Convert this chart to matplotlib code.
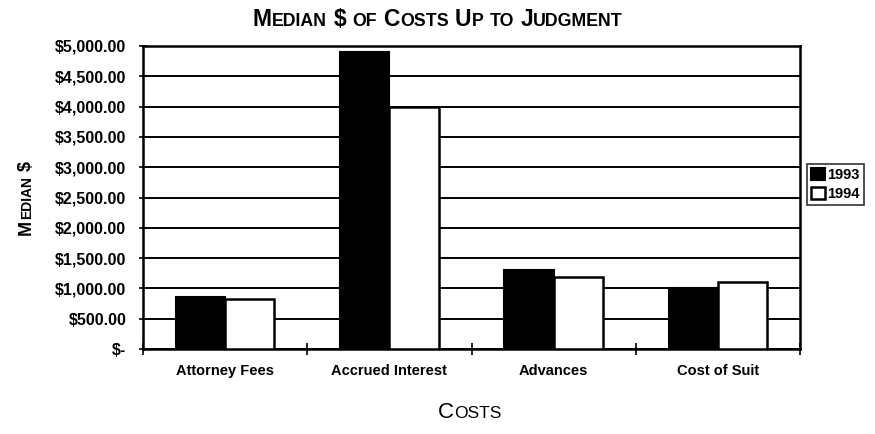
import matplotlib
matplotlib.use("Agg")
import matplotlib.pyplot as plt
import numpy as np

categories = ["Attorney Fees", "Accrued Interest", "Advances", "Cost of Suit"]
years = ["1993", "1994"]
median_1993 = [860, 4900, 1300, 1010]
median_1994 = [830, 3990, 1190, 1110]
y_ticks = [0, 500, 1000, 1500, 2000, 2500, 3000, 3500, 4000, 4500, 5000]

plt.rcParams["font.family"] = ["Liberation Sans", "DejaVu Sans"]

W, H = 875, 434
fig = plt.figure(figsize=(W / 100, H / 100), dpi=100)
ax = fig.add_axes([143 / W, 1 - 349 / H, (800 - 143) / W, (349 - 46) / H])

x = np.arange(len(categories))
bw = 0.30
ax.bar(x - bw / 2, median_1993, bw, color="black", edgecolor="black",
       linewidth=1.5, label=years[0], zorder=3)
ax.bar(x + bw / 2, median_1994, bw, color="white", edgecolor="black",
       linewidth=1.8, label=years[1], zorder=3)

ax.set_xlim(-0.5, len(categories) - 0.5)
ax.set_ylim(0, 5000)
ax.set_yticks(y_ticks)
ax.set_yticklabels(["$-" if v == 0 else f"${v:,.2f}" for v in y_ticks],
                   fontsize=11.5, fontweight="bold")
ax.yaxis.grid(True, color="black", linewidth=1.4, zorder=0)
ax.set_axisbelow(True)
ax.tick_params(axis="y", direction="inout", length=6, width=1.2, pad=9)

ax.set_xticks(x)
ax.set_xticklabels(categories, fontsize=10.5, fontweight="bold")
ax.tick_params(axis="x", length=0, pad=11)
ax.set_xticks(np.arange(-0.5, len(categories)), minor=True)
ax.tick_params(axis="x", which="minor", direction="inout", length=8, width=1.2)

for s in ax.spines.values():
    s.set_linewidth(1.8)
    s.set_color("black")

leg = fig.legend(loc="upper left", bbox_to_anchor=(807 / W, 1 - 164 / H),
                 prop={"weight": "bold", "size": 10.5},
                 frameon=True, fancybox=False, shadow=False,
                 handlelength=0.9, handleheight=0.9, handletextpad=0.2,
                 borderpad=0.3, labelspacing=0.3, borderaxespad=0)
leg.get_frame().set_edgecolor("black")
leg.get_frame().set_linewidth(1.2)

renderer = fig.canvas.get_renderer()


def pieces(label, big, small):
    out = []
    for wi, word in enumerate(label.split(" ")):
        if wi > 0:
            out.append((" ", big))
        run, run_small = "", None
        for ch in word:
            is_small = ch.islower()
            if run and is_small != run_small:
                out.append((run, small if run_small else big))
                run = ""
            run += ch.upper()
            run_small = is_small
        if run:
            out.append((run, small if run_small else big))
    return out


def text_width(s, size, weight):
    if s == " ":
        return 0.28 * size * 100 / 72
    t = fig.text(0, 0, s, fontsize=size, fontweight=weight)
    w = t.get_window_extent(renderer).width
    t.remove()
    return w


def small_caps(label, cx, cy, big, small, weight="bold", rotation=0):
    # cx, cy: centre of the run / baseline position in pixels (y from top)
    parts = pieces(label, big, small)
    widths = [text_width(s, sz, weight) for s, sz in parts]
    total = sum(widths)
    pos = -total / 2
    for (s, sz), w in zip(parts, widths):
        if s != " ":
            if rotation == 0:
                px, py = cx + pos, H - cy
            else:
                px, py = cx, H - cy + pos
            fig.text(px / W, py / H, s, fontsize=sz, fontweight=weight,
                     rotation=rotation, rotation_mode="anchor",
                     ha="left", va="baseline")
        pos += w


small_caps("Median $ of Costs Up to Judgment", 438, 26, 16.5, 12.8)
small_caps("Median $", 31, 198, 13, 10, rotation=90)
small_caps("Costs", 470, 418, 16, 12.5, weight="normal")

fig.savefig("out.png", dpi=100)
